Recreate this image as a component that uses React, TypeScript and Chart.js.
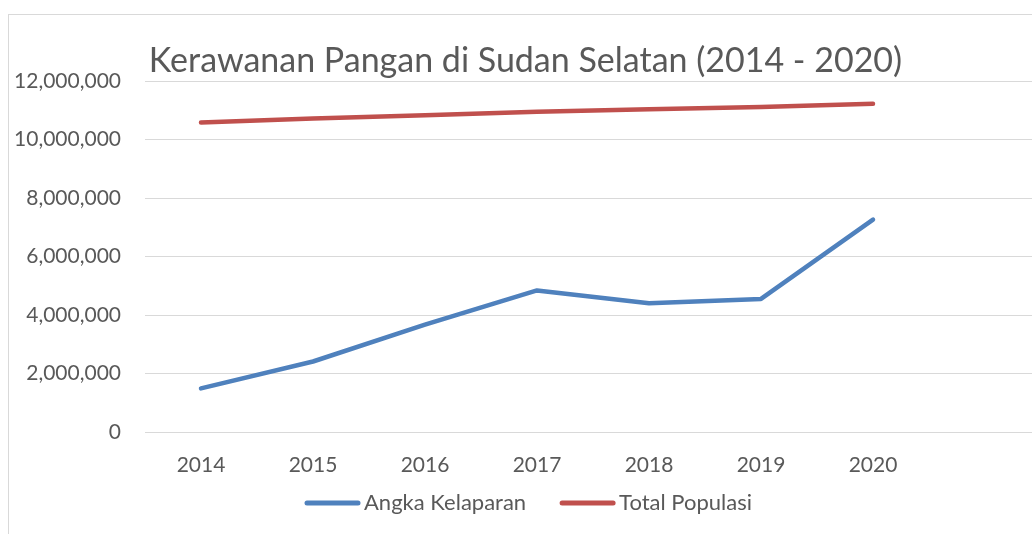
import React, { useEffect, useRef } from "react";
import { Chart, registerables } from "chart.js";

Chart.register(...registerables);

const chartTitle = "Kerawanan Pangan di Sudan Selatan (2014 - 2020)";
const categories = ["2014", "2015", "2016", "2017", "2018", "2019", "2020", ""];
const angkaKelaparan = [1490000, 2410000, 3670000, 4840000, 4400000, 4550000, 7260000];
const totalPopulasi = [10580000, 10720000, 10830000, 10950000, 11030000, 11110000, 11220000];
const yMin = 0;
const yMax = 12000000;
const yStep = 2000000;

const FONT = "Lato, 'Noto Sans', sans-serif";
const TEXT = "#595959";
const GRID = "#d9d9d9";

const titlePlugin = {
  id: "customTitle",
  afterDraw(chart: any) {
    const ctx = chart.ctx;
    ctx.save();
    ctx.font = `34px ${FONT}`;
    ctx.fillStyle = TEXT;
    ctx.textAlign = "center";
    ctx.textBaseline = "alphabetic";
    ctx.fillText(chartTitle, 517.5, 58);
    ctx.restore();
  },
};

const legendPlugin = {
  id: "customLegend",
  afterDraw(chart: any) {
    const ctx = chart.ctx;
    const ds = chart.data.datasets;
    ctx.save();
    ctx.font = `22px ${FONT}`;
    const lineW = 55;
    const gapText = 4;
    const gapItem = 34;
    const widths = ds.map((d: any) => lineW + gapText + ctx.measureText(d.label).width);
    const total = widths.reduce((a: number, b: number) => a + b, 0) + gapItem * (ds.length - 1);
    let x = chart.width / 2 - total / 2;
    const y = 489;
    ds.forEach((d: any, i: number) => {
      ctx.strokeStyle = d.borderColor;
      ctx.lineWidth = 5;
      ctx.lineCap = "round";
      ctx.beginPath();
      ctx.moveTo(x + 2, y);
      ctx.lineTo(x + lineW - 2, y);
      ctx.stroke();
      ctx.fillStyle = TEXT;
      ctx.textAlign = "left";
      ctx.textBaseline = "middle";
      ctx.fillText(d.label, x + lineW + gapText, y);
      x += widths[i] + gapItem;
    });
    ctx.restore();
  },
};

export default function App() {
  const ref = useRef<HTMLCanvasElement | null>(null);
  useEffect(() => {
    if (!ref.current) return;
    const chart = new Chart(ref.current, {
      type: "line",
      data: {
        labels: categories,
        datasets: [
          {
            label: "Angka Kelaparan",
            data: angkaKelaparan,
            borderColor: "#4f81bd",
            backgroundColor: "#4f81bd",
            borderWidth: 4.5,
            pointRadius: 0,
            borderCapStyle: "round",
            borderJoinStyle: "round",
            tension: 0,
          },
          {
            label: "Total Populasi",
            data: totalPopulasi,
            borderColor: "#c0504d",
            backgroundColor: "#c0504d",
            borderWidth: 4.5,
            pointRadius: 0,
            borderCapStyle: "round",
            borderJoinStyle: "round",
            tension: 0,
          },
        ],
      },
      options: {
        responsive: false,
        animation: false,
        layout: { padding: { left: 0, right: 8, top: 67, bottom: 0 } },
        plugins: {
          legend: { display: false },
          title: { display: false },
          tooltip: { enabled: false },
        },
        scales: {
          x: {
            offset: true,
            grid: { display: false, drawTicks: false },
            border: { display: false },
            ticks: {
              color: TEXT,
              font: { family: FONT, size: 21 },
              padding: 21,
              maxRotation: 0,
              autoSkip: false,
            },
            afterFit(scale: any) {
              scale.height = 102;
            },
          },
          y: {
            min: yMin,
            max: yMax,
            grid: { color: GRID, lineWidth: 1, drawTicks: false },
            border: { display: false },
            ticks: {
              stepSize: yStep,
              color: TEXT,
              font: { family: FONT, size: 21 },
              padding: 24,
              callback: (v: any) => Number(v).toLocaleString("en-US"),
            },
            afterFit(scale: any) {
              scale.width = 137;
            },
          },
        },
      },
      plugins: [titlePlugin, legendPlugin],
    });
    return () => chart.destroy();
  }, []);

  return (
    <div
      style={{
        position: "fixed",
        left: 0,
        top: 0,
        width: 1032,
        height: 534,
        overflow: "hidden",
        background: "#ffffff",
      }}
    >
      <div
        style={{
          position: "absolute",
          left: 8,
          top: 14,
          width: 1041,
          height: 520,
          borderLeft: `1px solid ${GRID}`,
          borderTop: `1px solid ${GRID}`,
          boxSizing: "border-box",
        }}
      />
      <canvas
        ref={ref}
        width={1041}
        height={520}
        style={{ position: "absolute", left: 8, top: 14, width: 1041, height: 520 }}
      />
    </div>
  );
}
